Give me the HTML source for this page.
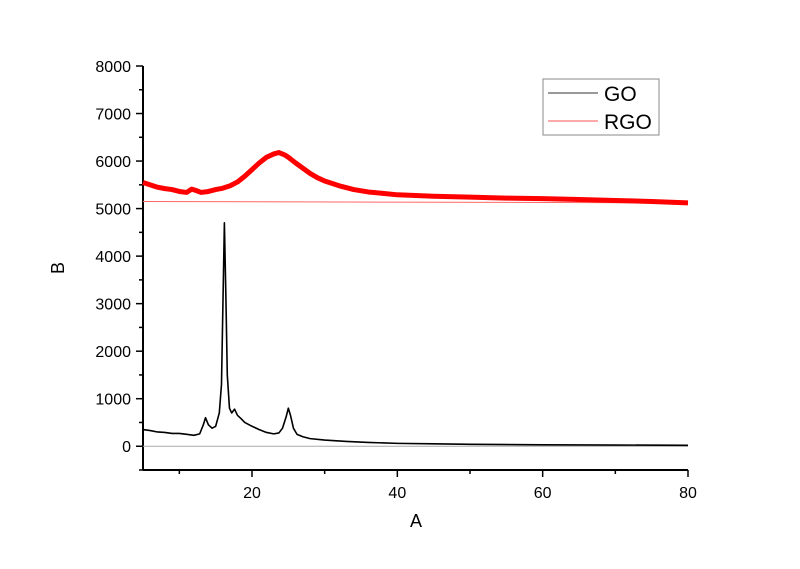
<!DOCTYPE html>
<html><head><meta charset="utf-8"><style>
body{margin:0;background:#fff}
svg text{font-family:"Liberation Sans",Arial,sans-serif}
</style></head><body>
<svg id="chart" width="800" height="564" xmlns="http://www.w3.org/2000/svg">
<g id="axes"></g>
<g id="series"></g>
<g>
<rect x="543" y="79" width="116" height="56" fill="#fff" stroke="#888" stroke-width="1"/>
<line x1="548" y1="93" x2="598" y2="93" stroke="#333" stroke-width="1"/>
<text x="604" y="101" font-size="21">GO</text>
<line x1="548" y1="121" x2="598" y2="121" stroke="#f55" stroke-width="1"/>
<text x="604" y="129" font-size="21">RGO</text>
</g>
<text x="416" y="527" font-size="18" text-anchor="middle">A</text>
<text x="64" y="268" font-size="18" text-anchor="middle" transform="rotate(-90 64 268)">B</text>
</svg>
<script>
const xTicks=[20,40,60,80];
const xMinor=[10,30,50,70];
const yTicks=[0,1000,2000,3000,4000,5000,6000,7000,8000];
const yMinor=[-500,500,1500,2500,3500,4500,5500,6500,7500];
const goX=[5,6,7,8,9,10,11,12,12.8,13.3,13.6,14,14.5,15,15.5,15.8,16,16.2,16.4,16.6,16.9,17.2,17.6,18,18.5,19,20,21,22,23,23.7,24.2,24.7,25,25.3,25.7,26.2,27,28,30,33,36,40,45,50,60,70,80];
const goY=[350,330,300,290,270,270,250,230,260,450,600,450,380,420,700,1300,3000,4700,3200,1500,800,700,780,650,580,500,420,350,290,260,280,380,620,800,650,380,250,200,160,130,100,80,60,50,40,30,25,20];
const rgoX=[5,6,7,8,9,10,11,11.7,12.3,13,14,15,16,17,18,19,20,21,22,23,23.7,24.5,25,26,27,28,29,30,32,34,36,38,40,45,50,55,60,65,70,75,80];
const rgoY=[5550,5500,5450,5420,5400,5360,5340,5410,5380,5340,5360,5400,5430,5480,5560,5680,5820,5960,6080,6150,6180,6130,6080,5960,5850,5740,5650,5580,5480,5400,5350,5320,5290,5260,5240,5220,5210,5190,5170,5150,5120];
const goBaseX=[5,80], goBaseY=[0,0];
const rgoBaseX=[5,80], rgoBaseY=[5150,5120];
const X0=143,X1=688,Y0=470,Y1=66,xMin=5,xMax=80,yMin=-500,yMax=8000;
const sx=v=>X0+(v-xMin)/(xMax-xMin)*(X1-X0);
const sy=v=>Y0-(v-yMin)/(yMax-yMin)*(Y0-Y1);
const NS="http://www.w3.org/2000/svg";
const axes=document.getElementById('axes'),ser=document.getElementById('series');
function mk(tag,attrs,parent){const e=document.createElementNS(NS,tag);for(const k in attrs)e.setAttribute(k,attrs[k]);parent.appendChild(e);return e;}
let e=mk('line',{x1:X0,y1:Y0,x2:X1,y2:Y0,stroke:'#000','stroke-width':2},axes);


e=mk('line',{x1:X0,y1:Y0,x2:X0,y2:Y1,stroke:'#000','stroke-width':2},axes);


xTicks.forEach(v=>{const t=mk('line',{x1:sx(v),y1:Y0,x2:sx(v),y2:Y0+7,stroke:'#000','stroke-width':1.5},axes);


const l=mk('text',{x:sx(v),y:Y0+28,'font-size':16,'text-anchor':'middle'},axes);l.textContent=v;

});
xMinor.forEach(v=>{const t=mk('line',{x1:sx(v),y1:Y0,x2:sx(v),y2:Y0+4,stroke:'#000','stroke-width':1.5},axes);

});
yTicks.forEach(v=>{const t=mk('line',{x1:X0-7,y1:sy(v),x2:X0,y2:sy(v),stroke:'#000','stroke-width':1.5},axes);


const l=mk('text',{x:X0-12,y:sy(v)+6,'font-size':16,'text-anchor':'end'},axes);l.textContent=v;

});
yMinor.forEach(v=>{const t=mk('line',{x1:X0-4,y1:sy(v),x2:X0,y2:sy(v),stroke:'#000','stroke-width':1.5},axes);

});
function path(xs,ys,stroke,w){return mk('polyline',{points:xs.map((x,i)=>sx(x)+','+sy(ys[i])).join(' '),fill:'none',stroke:stroke,'stroke-width':w,'stroke-linejoin':'round'},ser);}
e=path(goBaseX,goBaseY,'#aaa',1);


e=path(rgoBaseX,rgoBaseY,'#f66',1);


e=path(rgoX,rgoY,'#f00',5);


e=path(goX,goY,'#000',1.6);


</script>
</body></html>
